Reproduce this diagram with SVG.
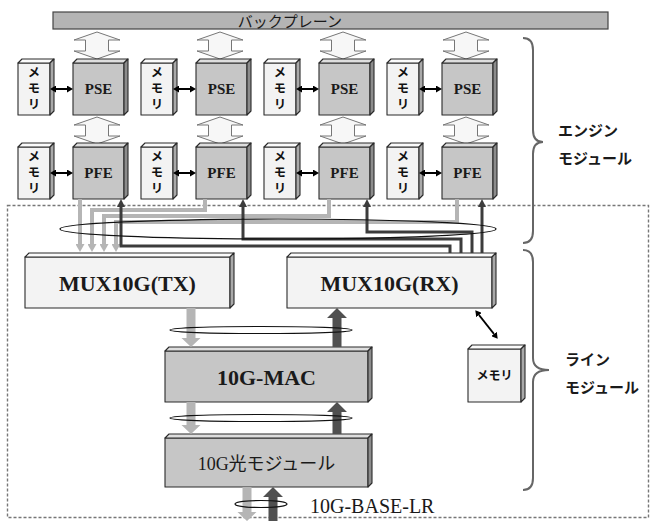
<svg xmlns="http://www.w3.org/2000/svg" xmlns:xlink="http://www.w3.org/1999/xlink" width="656" height="521" viewBox="0 0 656 521">
<style>
.e{stroke:#2a2a2a;stroke-width:1.1;stroke-linejoin:round}
.g{fill:#c6c6c6}.gs{fill:#8c8c8c}.gt{fill:#dedede}
.l{fill:#f3f3f3}.ls{fill:#a9a9a9}.lt{fill:#fbfbfb}
.ser{font-family:"Liberation Serif","Times New Roman",serif;font-weight:bold;fill:#1a1a1a;text-anchor:middle}
.jp{font-family:"Noto Sans CJK JP","Noto Sans",sans-serif;fill:#1a1a1a}
.mem{font-family:"Noto Sans CJK JP","Noto Sans",sans-serif;font-weight:bold;font-size:12.5px;fill:#111;text-anchor:middle}
.vm{font-family:"Noto Sans CJK JP","Noto Sans",sans-serif;font-weight:bold;font-size:12.5px;fill:#111;writing-mode:vertical-rl;letter-spacing:3.5px}
.gl{fill:none;stroke:#b5b5b5;stroke-width:4}
.dl{fill:none;stroke:#3c3c3c;stroke-width:3}
.ell{fill:none;stroke:#111;stroke-width:1.2}
.brace{fill:none;stroke:#666;stroke-width:2}
.ha{fill:#f7f7f7;stroke:#777;stroke-width:1}
.ga{fill:#b5b5b5}.da{fill:#505050}
</style>
<defs>
<marker id="mg" viewBox="0 -4.5 8 9" refX="0" refY="0" markerWidth="8" markerHeight="9" markerUnits="userSpaceOnUse" orient="auto"><path d="M0,-4.5 L8,0 L0,4.5 Z" fill="#b5b5b5"/></marker>
<marker id="md" viewBox="0 -4 8 8" refX="0" refY="0" markerWidth="8" markerHeight="8" markerUnits="userSpaceOnUse" orient="auto"><path d="M0,-4 L8,0 L0,4 Z" fill="#3c3c3c"/></marker>
<marker id="mb" viewBox="0 -3.5 6 7" refX="0" refY="0" markerWidth="6" markerHeight="7" markerUnits="userSpaceOnUse" orient="auto-start-reverse"><path d="M0,-3.5 L6,0 L0,3.5 Z" fill="#000"/></marker>
<path id="ha" d="M0,0 L23,8 L11.5,8 L11.5,19 L23,19 L0,27 L-23,19 L-11.5,19 L-11.5,8 L-23,8 Z"/>
</defs>
<rect width="656" height="521" fill="#fff"/>

<!-- line module dashed frame -->
<rect x="7.5" y="205.5" width="641" height="312" fill="none" stroke="#777" stroke-width="1.4" stroke-dasharray="3 2"/>

<!-- backplane -->
<g id="backplane">
<rect x="53" y="12" width="555" height="17" fill="#b4b4b4" stroke="#444" stroke-width="1.2"/>
<text x="290" y="26.5" class="jp" font-size="15" text-anchor="middle">バックプレーン</text>
</g>

<!-- hollow double arrows -->
<g id="bus-arrows" class="ha">
<use xlink:href="#ha" x="97" y="32"/><use xlink:href="#ha" x="220" y="32"/><use xlink:href="#ha" x="343" y="32"/><use xlink:href="#ha" x="466" y="32"/>
<use xlink:href="#ha" x="97" y="117"/><use xlink:href="#ha" x="220" y="117"/><use xlink:href="#ha" x="343" y="117"/><use xlink:href="#ha" x="466" y="117"/>
</g>

<!-- engine row 1 -->
<g id="mem1" class="e"><rect class="l" x="18" y="63" width="32" height="52"/><polygon class="lt" points="18,63 22,59 54,59 50,63"/><polygon class="ls" points="50,63 54,59 54,111 50,115"/></g>
<g id="pse1" class="e"><rect class="g" x="73" y="63" width="51" height="52"/><polygon class="gt" points="73,63 77,59 128,59 124,63"/><polygon class="gs" points="124,63 128,59 128,111 124,115"/></g>
<g id="mem2" class="e"><rect class="l" x="141" y="63" width="32" height="52"/><polygon class="lt" points="141,63 145,59 177,59 173,63"/><polygon class="ls" points="173,63 177,59 177,111 173,115"/></g>
<g id="pse2" class="e"><rect class="g" x="196" y="63" width="51" height="52"/><polygon class="gt" points="196,63 200,59 251,59 247,63"/><polygon class="gs" points="247,63 251,59 251,111 247,115"/></g>
<g id="mem3" class="e"><rect class="l" x="264" y="63" width="32" height="52"/><polygon class="lt" points="264,63 268,59 300,59 296,63"/><polygon class="ls" points="296,63 300,59 300,111 296,115"/></g>
<g id="pse3" class="e"><rect class="g" x="319" y="63" width="51" height="52"/><polygon class="gt" points="319,63 323,59 374,59 370,63"/><polygon class="gs" points="370,63 374,59 374,111 370,115"/></g>
<g id="mem4" class="e"><rect class="l" x="387" y="63" width="32" height="52"/><polygon class="lt" points="387,63 391,59 423,59 419,63"/><polygon class="ls" points="419,63 423,59 423,111 419,115"/></g>
<g id="pse4" class="e"><rect class="g" x="442" y="63" width="51" height="52"/><polygon class="gt" points="442,63 446,59 497,59 493,63"/><polygon class="gs" points="493,63 497,59 497,111 493,115"/></g>

<!-- engine row 2 -->
<g id="mem5" class="e"><rect class="l" x="18" y="147" width="32" height="52"/><polygon class="lt" points="18,147 22,143 54,143 50,147"/><polygon class="ls" points="50,147 54,143 54,195 50,199"/></g>
<g id="pfe1" class="e"><rect class="g" x="73" y="147" width="51" height="52"/><polygon class="gt" points="73,147 77,143 128,143 124,147"/><polygon class="gs" points="124,147 128,143 128,195 124,199"/></g>
<g id="mem6" class="e"><rect class="l" x="141" y="147" width="32" height="52"/><polygon class="lt" points="141,147 145,143 177,143 173,147"/><polygon class="ls" points="173,147 177,143 177,195 173,199"/></g>
<g id="pfe2" class="e"><rect class="g" x="196" y="147" width="51" height="52"/><polygon class="gt" points="196,147 200,143 251,143 247,147"/><polygon class="gs" points="247,147 251,143 251,195 247,199"/></g>
<g id="mem7" class="e"><rect class="l" x="264" y="147" width="32" height="52"/><polygon class="lt" points="264,147 268,143 300,143 296,147"/><polygon class="ls" points="296,147 300,143 300,195 296,199"/></g>
<g id="pfe3" class="e"><rect class="g" x="319" y="147" width="51" height="52"/><polygon class="gt" points="319,147 323,143 374,143 370,147"/><polygon class="gs" points="370,147 374,143 374,195 370,199"/></g>
<g id="mem8" class="e"><rect class="l" x="387" y="147" width="32" height="52"/><polygon class="lt" points="387,147 391,143 423,143 419,147"/><polygon class="ls" points="419,147 423,143 423,195 419,199"/></g>
<g id="pfe4" class="e"><rect class="g" x="442" y="147" width="51" height="52"/><polygon class="gt" points="442,147 446,143 497,143 493,147"/><polygon class="gs" points="493,147 497,143 497,195 493,199"/></g>

<!-- engine texts -->
<g>
<text x="34" y="66" class="vm">メモリ</text>
<text x="157" y="66" class="vm">メモリ</text>
<text x="280" y="66" class="vm">メモリ</text>
<text x="403" y="66" class="vm">メモリ</text>
<text x="34" y="150" class="vm">メモリ</text>
<text x="157" y="150" class="vm">メモリ</text>
<text x="280" y="150" class="vm">メモリ</text>
<text x="403" y="150" class="vm">メモリ</text>
</g>
<g class="ser" font-size="15">
<text x="98.5" y="94">PSE</text><text x="221.5" y="94">PSE</text><text x="344.5" y="94">PSE</text><text x="467.5" y="94">PSE</text>
<text x="98.5" y="178">PFE</text><text x="221.5" y="178">PFE</text><text x="344.5" y="178">PFE</text><text x="467.5" y="178">PFE</text>
</g>

<!-- line module boxes -->
<g id="mux-tx" class="e"><rect class="l" x="25" y="257" width="205" height="51"/><polygon class="lt" points="25,257 29,253 234,253 230,257"/><polygon class="ls" points="230,257 234,253 234,304 230,308"/>
<text x="127.5" y="290.5" class="ser" font-size="22" stroke="none">MUX10G(TX)</text></g>
<g id="mux-rx" class="e"><rect class="l" x="287" y="257" width="205" height="51"/><polygon class="lt" points="287,257 291,253 496,253 492,257"/><polygon class="ls" points="492,257 496,253 496,304 492,308"/>
<text x="389.5" y="290.5" class="ser" font-size="22" stroke="none">MUX10G(RX)</text></g>
<g id="mac" class="e"><rect class="g" x="165" y="351" width="203" height="51"/><polygon class="gt" points="165,351 169,347 372,347 368,351"/><polygon class="gs" points="368,351 372,347 372,398 368,402"/>
<text x="266.5" y="384.5" class="ser" font-size="22" stroke="none">10G-MAC</text></g>
<g id="optic" class="e"><rect class="g" x="165" y="438" width="203" height="49"/><polygon class="gt" points="165,438 169,434 372,434 368,438"/><polygon class="gs" points="368,438 372,434 372,483 368,487"/>
<text x="266.5" y="470" font-family="Liberation Serif,Noto Sans CJK JP,serif" font-size="18" fill="#1a1a1a" text-anchor="middle" stroke="none">10G光モジュール</text></g>
<g id="mem-rx" class="e"><rect class="l" x="468" y="349" width="53" height="53"/><polygon class="lt" points="468,349 472,345 525,345 521,349"/><polygon class="ls" points="521,349 525,345 525,398 521,402"/>
<text x="494.5" y="380" class="mem" stroke="none" style="font-size:12px">メモリ</text></g>

<!-- connectors -->
<g id="connectors">
<g stroke="#000" stroke-width="2" fill="none">
<path d="M56,89 H67" marker-start="url(#mb)" marker-end="url(#mb)"/>
<path d="M179,89 H190" marker-start="url(#mb)" marker-end="url(#mb)"/>
<path d="M302,89 H313" marker-start="url(#mb)" marker-end="url(#mb)"/>
<path d="M425,89 H436" marker-start="url(#mb)" marker-end="url(#mb)"/>
<path d="M56,173 H67" marker-start="url(#mb)" marker-end="url(#mb)"/>
<path d="M179,173 H190" marker-start="url(#mb)" marker-end="url(#mb)"/>
<path d="M302,173 H313" marker-start="url(#mb)" marker-end="url(#mb)"/>
<path d="M425,173 H436" marker-start="url(#mb)" marker-end="url(#mb)"/>
<path d="M479,315 L494,334" marker-start="url(#mb)" marker-end="url(#mb)"/>
</g>
<path class="gl" d="M80,199 V244" marker-end="url(#mg)"/>
<path class="gl" d="M205,199 V210 H92 V244" marker-end="url(#mg)"/>
<path class="gl" d="M329,199 V216 H104 V244" marker-end="url(#mg)"/>
<path class="gl" d="M457,199 V222 H116 V244" marker-end="url(#mg)"/>
<path class="dl" d="M450,253 V246 H121 V207" marker-end="url(#md)"/>
<path class="dl" d="M461,253 V239 H243 V207" marker-end="url(#md)"/>
<path class="dl" d="M472,253 V232 H367 V207" marker-end="url(#md)"/>
<path class="dl" d="M482,253 V207" marker-end="url(#md)"/>
<ellipse class="ell" cx="278" cy="229" rx="218" ry="10"/>

<polygon class="ga" points="186.5,308 195.5,308 195.5,338 200.5,338 191,347 181.5,338 186.5,338"/>
<polygon class="da" points="332.5,347 341.5,347 341.5,318 347,318 337,308 327,318 332.5,318"/>
<ellipse class="ell" cx="261" cy="330" rx="91" ry="3.5"/>
<polygon class="ga" points="186.5,402 195.5,402 195.5,425 200.5,425 191,434 181.5,425 186.5,425"/>
<polygon class="da" points="332.5,434 341.5,434 341.5,412 347,412 337,402 327,412 332.5,412"/>
<ellipse class="ell" cx="261" cy="418" rx="91" ry="3.5"/>
<polygon class="ga" points="242.5,487 251.5,487 251.5,512 256.5,512 247,521 237.5,512 242.5,512"/>
<polygon class="da" points="268.5,521 277.5,521 277.5,497 283,497 273,487 263,497 268.5,497"/>
<ellipse class="ell" cx="261" cy="504" rx="26" ry="3.5"/>
</g>
<text x="310" y="513" font-family="Liberation Serif,serif" font-size="20" fill="#1a1a1a">10G-BASE-LR</text>

<!-- braces -->
<g id="engine-module">
<path class="brace" d="M523,38 Q533,38 533,50 V130 Q533,142 543,142 Q533,142 533,154 V231 Q533,243 523,243"/>
<text x="558" y="136" class="jp" font-size="15" font-weight="bold">エンジン</text>
<text x="558" y="164" class="jp" font-size="15" font-weight="bold">モジュール</text>
</g>
<g id="line-module">
<path class="brace" d="M523,250 Q533,250 533,262 V358 Q533,370 549,370 Q533,370 533,382 V478 Q533,490 523,490"/>
<text x="565" y="365" class="jp" font-size="15" font-weight="bold">ライン</text>
<text x="565" y="393" class="jp" font-size="15" font-weight="bold">モジュール</text>
</g>
</svg>
